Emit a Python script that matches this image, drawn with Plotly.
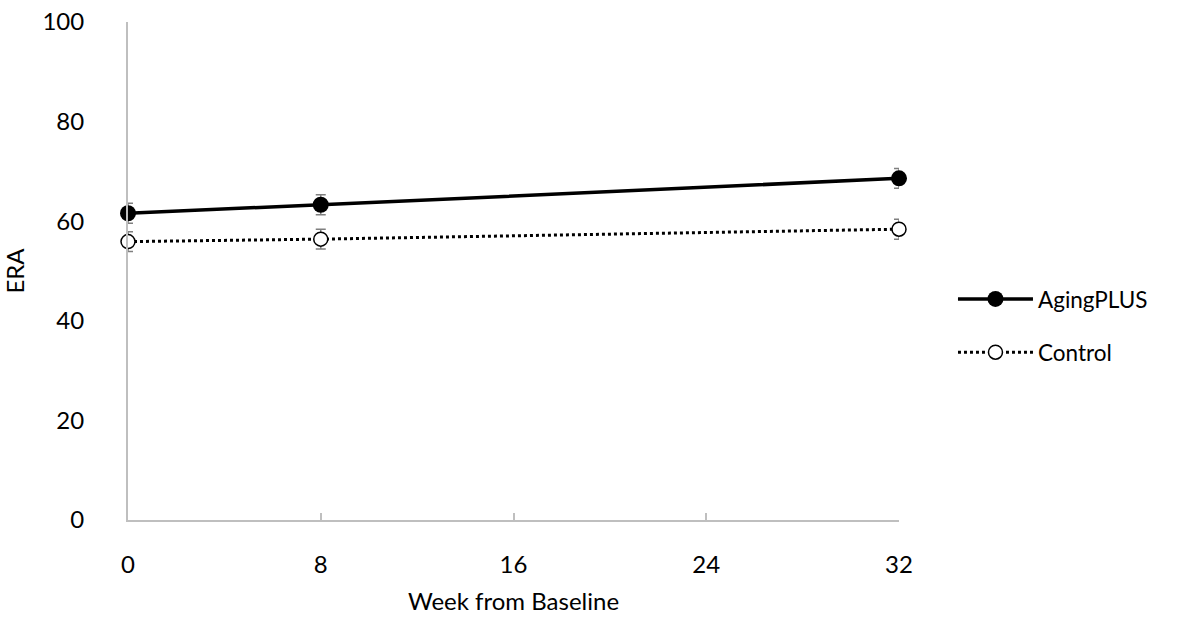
import plotly.graph_objects as go

weeks = [0, 8, 32]
aging_plus = [61.6, 63.3, 68.6]
aging_plus_err = [2.0, 2.0, 2.0]
control = [55.9, 56.4, 58.4]
control_err = [2.0, 2.0, 2.0]
x_ticks = [0, 8, 16, 24, 32]
y_ticks = [0, 20, 40, 60, 80, 100]

FONT = "Lato"
FS = 24
AXIS_GRAY = "#bfbfbf"
ERR_GRAY = "#7f7f7f"

fig = go.Figure()

fig.add_trace(go.Scatter(
    x=weeks, y=aging_plus, name="AgingPLUS", mode="lines+markers",
    legendgroup="a",
    line=dict(color="black", width=3.5),
    marker=dict(symbol="circle", size=16, color="black"),
    error_y=dict(type="data", array=aging_plus_err, color=ERR_GRAY,
                 thickness=1.5, width=5),
    cliponaxis=False,
))

fig.add_trace(go.Scatter(
    x=weeks, y=control, name="Control", mode="lines+markers",
    legendgroup="c",
    line=dict(color="black", width=3, dash="dot"),
    marker=dict(symbol="circle", size=14, color="white",
                line=dict(color="black", width=1.5)),
    error_y=dict(type="data", array=control_err, color=ERR_GRAY,
                 thickness=1.5, width=5),
    cliponaxis=False,
))

fig.update_layout(
    width=1180, height=627,
    margin=dict(l=128, r=281, t=22, b=107),
    paper_bgcolor="white", plot_bgcolor="white",
    font=dict(family=FONT, size=FS, color="black"),
    showlegend=True,
    legend=dict(x=1.07, y=0.39, xanchor="left", yanchor="middle",
                font=dict(family=FONT, size=22.5, color="black"),
                itemwidth=75, tracegroupgap=21, bgcolor="rgba(0,0,0,0)"),
    xaxis=dict(
        range=[0, 32], tickvals=x_ticks, ticktext=[str(v) for v in x_ticks],
        showline=True, linecolor=AXIS_GRAY, linewidth=2,
        ticks="inside", ticklen=7, tickwidth=1.5, tickcolor=AXIS_GRAY,
        showgrid=False, zeroline=False, automargin=False,
        ticklabelstandoff=22,
        title=dict(text="Week from Baseline", standoff=16,
                   font=dict(family=FONT, size=FS)),
        tickfont=dict(family=FONT, size=FS),
    ),
    yaxis=dict(
        range=[0, 100], tickvals=y_ticks,
        showline=True, linecolor=AXIS_GRAY, linewidth=2,
        ticks="", showgrid=False, zeroline=False, automargin=False,
        ticklabelstandoff=37,
        title=dict(text="ERA", standoff=26, font=dict(family=FONT, size=FS)),
        tickfont=dict(family=FONT, size=FS),
    ),
)

fig.write_html("out.html")
